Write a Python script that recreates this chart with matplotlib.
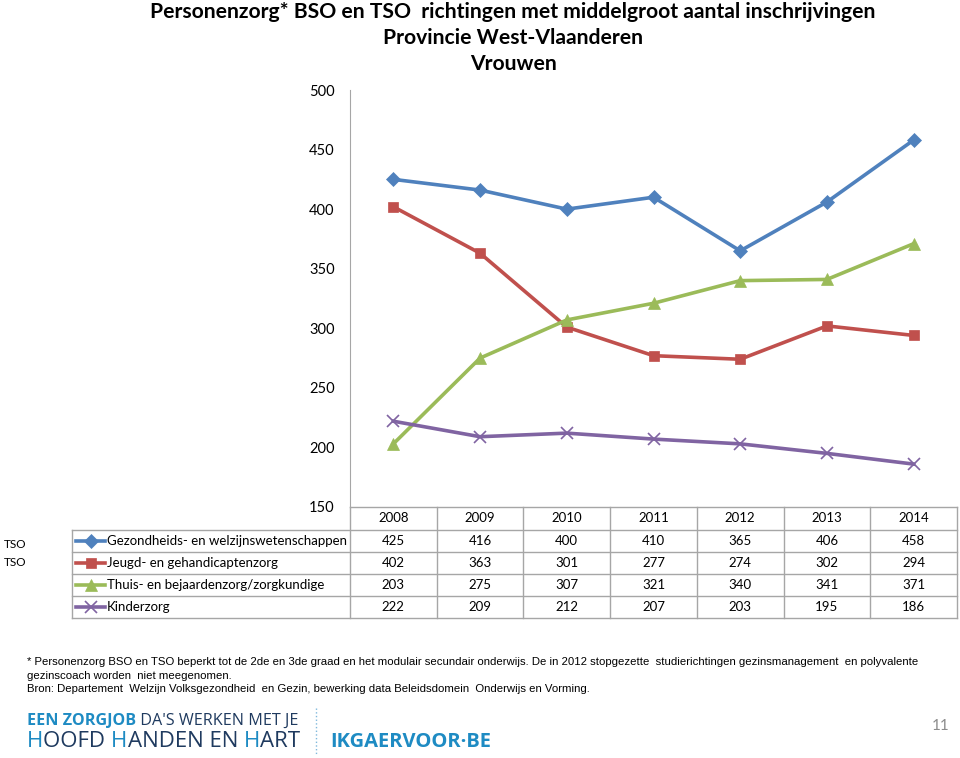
import matplotlib
matplotlib.use('Agg')
import matplotlib.pyplot as plt
from matplotlib.transforms import blended_transform_factory

years = ['2008', '2009', '2010', '2011', '2012', '2013', '2014']
series_names = ['Gezondheids- en welzijnswetenschappen', 'Jeugd- en gehandicaptenzorg',
                'Thuis- en bejaardenzorg/zorgkundige', 'Kinderzorg']
gezondheid = [425, 416, 400, 410, 365, 406, 458]
jeugd = [402, 363, 301, 277, 274, 302, 294]
thuis = [203, 275, 307, 321, 340, 341, 371]
kinder = [222, 209, 212, 207, 203, 195, 186]
yticks = [150, 200, 250, 300, 350, 400, 450, 500]

values = [gezondheid, jeugd, thuis, kinder]
colors = ['#4F81BD', '#C0504D', '#9BBB59', '#8064A2']
markers = ['D', 's', '^', 'x']
msizes = [7, 7.5, 8, 9]

W, H = 960, 758
fig = plt.figure(figsize=(W / 100, H / 100), dpi=100)
ax = fig.add_axes([350 / W, 1 - 507 / H, 607 / W, 417 / H])

x = list(range(len(years)))
for v, c, m, ms in zip(values, colors, markers, msizes):
    ax.plot(x, v, color=c, lw=2.6, marker=m, ms=ms, mec=c, mew=1.2 if m == 'x' else 0.5)

ax.set_xlim(-0.5, len(years) - 0.5)
ax.set_ylim(150, 500)
ax.set_yticks(yticks)
ax.set_yticklabels([str(t) for t in yticks], fontsize=10.5, family='Lato')
ax.tick_params(axis='y', length=0, pad=11)
ax.set_xticks([])
for s in ['top', 'right', 'bottom']:
    ax.spines[s].set_visible(False)
ax.spines['left'].set_color('#A6A6A6')

# data table under the plot
tr = blended_transform_factory(ax.transData, fig.transFigure)
def fy(p):
    return 1 - p / H
def fx(p):
    return p / W
lc = '#A6A6A6'
rows_y = [507, 530, 552, 574, 596, 618]
for i, yy in enumerate(rows_y):
    if i == 0:
        ax.plot([-0.5, 6.5], [fy(yy)] * 2, transform=tr, color=lc, lw=1, clip_on=False)
    else:
        fig.add_artist(plt.Line2D([fx(72), fx(957)], [fy(yy)] * 2, color=lc, lw=1))
for k in range(len(years) + 1):
    ax.plot([k - 0.5, k - 0.5], [fy(507), fy(618)], transform=tr, color=lc, lw=1, clip_on=False)
fig.add_artist(plt.Line2D([fx(72), fx(72)], [fy(530), fy(618)], color=lc, lw=1))

for k, yr in enumerate(years):
    ax.text(k, fy(518.5), yr, transform=tr, ha='center', va='center', fontsize=9.5, family='Lato')
for r, (name, v, c, m, ms) in enumerate(zip(series_names, values, colors, markers, msizes)):
    yc = fy((rows_y[r + 1] + rows_y[r + 2]) / 2)
    fig.add_artist(plt.Line2D([fx(76), fx(105)], [yc, yc], color=c, lw=2.6))
    fig.add_artist(plt.Line2D([fx(90.5)], [yc], color=c, marker=m, ms=ms, mec=c,
                              mew=1.2 if m == 'x' else 0.5))
    fig.text(fx(107), yc, name, ha='left', va='center', fontsize=9.5, family='Lato')
    for k, val in enumerate(v):
        ax.text(k, yc, str(val), transform=tr, ha='center', va='center', fontsize=9.5, family='Lato')

fig.text(fx(4), fy(545), 'TSO', ha='left', va='center', fontsize=8.5, family='Lato')
fig.text(fx(4), fy(562), 'TSO', ha='left', va='center', fontsize=8.5, family='Lato')

# titles
tf = dict(ha='center', va='center', fontsize=15.2, fontweight='bold', family='Lato')
fig.text(fx(513), fy(12), 'Personenzorg* BSO en TSO  richtingen met middelgroot aantal inschrijvingen', **tf)
fig.text(fx(513), fy(38), 'Provincie West-Vlaanderen', **tf)
fig.text(fx(513), fy(64), 'Vrouwen', **tf)

# footnote
ff = dict(ha='left', va='center', fontsize=8.2, family='Liberation Sans')
fig.text(fx(27), fy(662), '* Personenzorg BSO en TSO beperkt tot de 2de en 3de graad en het modulair secundair '
         'onderwijs. De in 2012 stopgezette  studierichtingen gezinsmanagement  en polyvalente', **ff)
fig.text(fx(27), fy(676), 'gezinscoach worden  niet meegenomen.', **ff)
fig.text(fx(27), fy(689), 'Bron: Departement  Welzijn Volksgezondheid  en Gezin, bewerking data Beleidsdomein  '
         'Onderwijs en Vorming.', **ff)

# logo
blue = '#1E8BC3'
dark = '#1F3A5F'
t1 = fig.text(fx(27), fy(725), 'EEN ZORGJOB', ha='left', va='baseline', fontsize=11.6,
              fontweight='bold', color=blue, family='Open Sans')
ax.annotate(" DA'S WERKEN MET JE", xy=(1, 0), xycoords=t1, ha='left', va='bottom',
            fontsize=11.6, color=dark, family='Open Sans', annotation_clip=False)
prev = None
parts = [('H', blue), ('OOFD ', dark), ('H', blue), ('ANDEN EN ', dark), ('H', blue), ('ART', dark)]
for txt, col in parts:
    if prev is None:
        prev = fig.text(fx(27), fy(747), txt, ha='left', va='baseline', fontsize=16,
                        color=col, family='Open Sans')
    else:
        prev = ax.annotate(txt, xy=(1, 0), xycoords=prev, ha='left', va='bottom', fontsize=16,
                           color=col, family='Open Sans', annotation_clip=False)
fig.add_artist(plt.Line2D([fx(316), fx(316)], [fy(708), fy(755)], color='#7FB8DC', lw=1, ls=':'))
fig.text(fx(330), fy(747), 'IKGAERVOOR\u00b7BE', ha='left', va='baseline', fontsize=14.5,
         fontweight='bold', color=blue, family='Open Sans')
fig.text(fx(950), fy(726), '11', ha='right', va='center', fontsize=11, color='#8C8C8C', family='Lato')

fig.savefig('out.png', dpi=100)
